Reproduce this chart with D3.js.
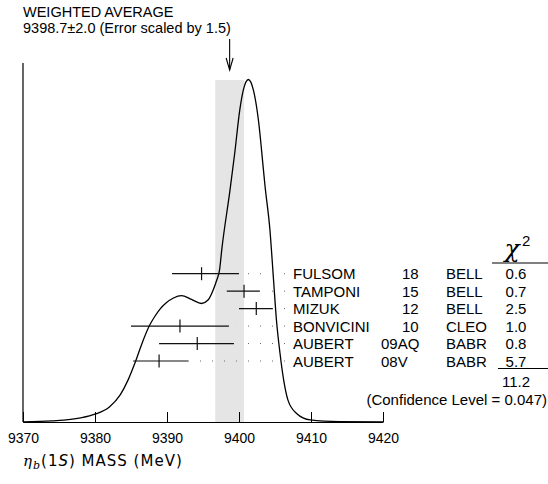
<!DOCTYPE html>
<html>
<head>
<meta charset="utf-8">
<script src="https://cdn.jsdelivr.net/npm/d3@7"></script>
<style>
  body { margin: 0; background: #fff; }
  svg { display: block; font-family: "Liberation Sans", Arial, sans-serif; }
</style>
</head>
<body>
<div id="chart"></div>
<script>
// measurements //
const authors = ['FULSOM', 'TAMPONI', 'MIZUK', 'BONVICINI', 'AUBERT', 'AUBERT']
const docIds = ['18', '15', '12', '10', '09AQ', '08V']
const experiments = ['BELL', 'BELL', 'BELL', 'CLEO', 'BABR', 'BABR']
const masses = [9394.8, 9400.7, 9402.4, 9391.8, 9394.2, 9388.9]
const errMinus = [4.1, 2.4, 2.4, 6.8, 5.3, 3.6]
const errPlus = [5.2, 2.2, 2.3, 6.8, 5.1, 4.1]
const chi2 = ['0.6', '0.7', '2.5', '1.0', '0.8', '5.7']
const chi2Total = '11.2'
const confLevel = '0.047'

// weighted average //
const avgValue = 9398.7
const avgError = 2.0
const scaleFactor = 1.5

// ideogram curve (relative height) //
const curveMass = [9370, 9374, 9378, 9380, 9382, 9383.5, 9384.6, 9385.6, 9386.5, 9387.6,
  9388.3, 9389.0, 9389.9, 9390.9, 9392.0, 9393.4, 9394.8, 9395.7, 9396.4, 9396.9, 9397.3,
  9397.6, 9398.75, 9399.4, 9400.1, 9400.6, 9401.3, 9402.0, 9402.7, 9403.4, 9403.6,
  9404.3, 9404.8, 9405.2, 9405.7, 9406.2, 9406.8, 9408.0, 9409.9, 9414, 9420]
const curveHeight = [0, 0.003, 0.012, 0.023, 0.044, 0.079, 0.123, 0.175, 0.228, 0.283,
  0.308, 0.329, 0.348, 0.362, 0.369, 0.358, 0.346, 0.356, 0.385, 0.414, 0.444,
  0.502, 0.677, 0.784, 0.910, 0.969, 1.0, 0.969, 0.881, 0.735, 0.692,
  0.560, 0.414, 0.298, 0.200, 0.123, 0.064, 0.025, 0.006, 0.001, 0]

const xTicks = [9370, 9380, 9390, 9400, 9410, 9420]

// svg //
const width = 548
const height = 484
const baseY = 422
const peakY = 79.5
const axisTop = 63

const svg = d3.select('#chart').append('svg')
  .attr('width', width)
  .attr('height', height)

const x = d3.scaleLinear().domain([9370, 9420]).range([23, 383])
const y = d3.scaleLinear().domain([0, 1]).range([baseY, peakY])
const row = d3.scalePoint().domain(d3.range(authors.length)).range([273.7, 361])

// shaded band of the average
svg.append('rect')
  .attr('x', x(avgValue - avgError))
  .attr('y', 80)
  .attr('width', x(avgValue + avgError) - x(avgValue - avgError))
  .attr('height', baseY - 80)
  .attr('fill', '#e5e5e5')

// title
svg.append('text')
  .attr('x', 23).attr('y', 16.5)
  .style('font-size', '14.5px')
  .text('WEIGHTED AVERAGE')
svg.append('text')
  .attr('x', 23).attr('y', 33)
  .style('font-size', '14.5px')
  .text(`${avgValue}\u00b1${avgError.toFixed(1)} (Error scaled by ${scaleFactor})`)

// arrow
const ax = x(avgValue)
svg.append('line')
  .attr('x1', ax).attr('x2', ax).attr('y1', 39).attr('y2', 70)
  .attr('stroke', '#000').attr('stroke-width', 1.1)
svg.append('path')
  .attr('d', `M${ax - 3.5},58 L${ax},70 L${ax + 3.5},58`)
  .attr('fill', 'none').attr('stroke', '#000').attr('stroke-width', 1.1)

// left axis line
svg.append('line')
  .attr('x1', 23).attr('x2', 23).attr('y1', axisTop).attr('y2', baseY)
  .attr('stroke', '#000').attr('stroke-width', 1.2)

// bottom axis
const xAxis = svg.append('g')
  .attr('transform', `translate(0, ${baseY})`)
  .call(d3.axisBottom(x).tickValues(xTicks).tickFormat(d3.format('d'))
    .tickSizeInner(-10).tickSizeOuter(0).tickPadding(11))
xAxis.select('.domain').attr('stroke', '#000').attr('stroke-width', 1.2)
xAxis.selectAll('.tick line').attr('stroke', '#000')
xAxis.selectAll('.tick text')
  .style('font-size', '14px')
  .style('font-family', '"Liberation Sans", Arial, sans-serif')
  .attr('fill', '#000')

// ideogram
const line = d3.line()
  .x((d, i) => x(curveMass[i]))
  .y(d => y(d))
  .curve(d3.curveMonotoneX)

svg.append('path')
  .datum(curveHeight)
  .attr('d', line)
  .attr('fill', 'none')
  .attr('stroke', '#000')
  .attr('stroke-width', 1.3)

// measurements
const rows = svg.selectAll('g.meas')
  .data(authors)
  .enter()
  .append('g')
  .attr('class', 'meas')
  .attr('transform', (d, i) => `translate(0, ${row(i)})`)

rows.append('line')
  .attr('x1', (d, i) => x(masses[i] - errMinus[i]))
  .attr('x2', (d, i) => x(masses[i] + errPlus[i]))
  .attr('stroke', '#111').attr('stroke-width', 1.2)

rows.append('line')
  .attr('x1', (d, i) => x(masses[i]))
  .attr('x2', (d, i) => x(masses[i]))
  .attr('y1', -6.5).attr('y2', 6.5)
  .attr('stroke', '#111').attr('stroke-width', 1.2)

// dotted leaders
rows.append('line')
  .attr('x1', 285)
  .attr('x2', (d, i) => x(masses[i] + errPlus[i]) + 8)
  .attr('stroke', '#666').attr('stroke-width', 1)
  .attr('stroke-dasharray', '1 11')

rows.append('text')
  .attr('x', 293)
  .attr('y', 5.5)
  .style('font-size', '15px')
  .text(d => d)

rows.append('text')
  .attr('x', (d, i) => docIds[i].length > 2 ? 381 : 402)
  .attr('y', 5.5)
  .style('font-size', '15px')
  .text((d, i) => docIds[i])

rows.append('text')
  .attr('x', 446)
  .attr('y', 5.5)
  .style('font-size', '15px')
  .text((d, i) => experiments[i])

rows.append('text')
  .attr('x', 516)
  .attr('y', 5.5)
  .attr('text-anchor', 'middle')
  .style('font-size', '15px')
  .text((d, i) => chi2[i])

// chi2 header
svg.append('text')
  .attr('x', 512)
  .attr('y', 257)
  .attr('text-anchor', 'middle')
  .style('font-family', '"DejaVu Serif", serif')
  .style('font-style', 'italic')
  .style('font-size', '25px')
  .text('\u03c7')
svg.append('text')
  .attr('x', 522)
  .attr('y', 246)
  .style('font-size', '15px')
  .text('2')

svg.append('line')
  .attr('x1', 492).attr('x2', 548).attr('y1', 263).attr('y2', 263)
  .attr('stroke', '#000').attr('stroke-width', 1.2)
svg.append('line')
  .attr('x1', 498).attr('x2', 548).attr('y1', 368.5).attr('y2', 368.5)
  .attr('stroke', '#000').attr('stroke-width', 1.2)

svg.append('text')
  .attr('x', 516).attr('y', 387)
  .attr('text-anchor', 'middle')
  .style('font-size', '15px')
  .text(chi2Total)

svg.append('text')
  .attr('x', 547).attr('y', 404.5)
  .attr('text-anchor', 'end')
  .style('font-size', '15px')
  .text(`(Confidence Level = ${confLevel})`)

// x label
const xl = svg.append('text')
  .attr('x', 23).attr('y', 466)
  .style('font-family', '"DejaVu Sans", sans-serif')
  .style('font-size', '15px')
  .style('letter-spacing', '1px')
xl.append('tspan').style('font-family', '"DejaVu Serif", serif').style('font-style', 'italic').text('\u03b7')
xl.append('tspan').attr('dy', 3).style('font-family', '"DejaVu Serif", serif').style('font-style', 'italic').style('font-size', '11px').text('b')
xl.append('tspan').attr('dy', -3).text('(1')
xl.append('tspan').style('font-style', 'italic').text('S')
xl.append('tspan').text(') MASS (MeV)')
</script>
</body>
</html>
